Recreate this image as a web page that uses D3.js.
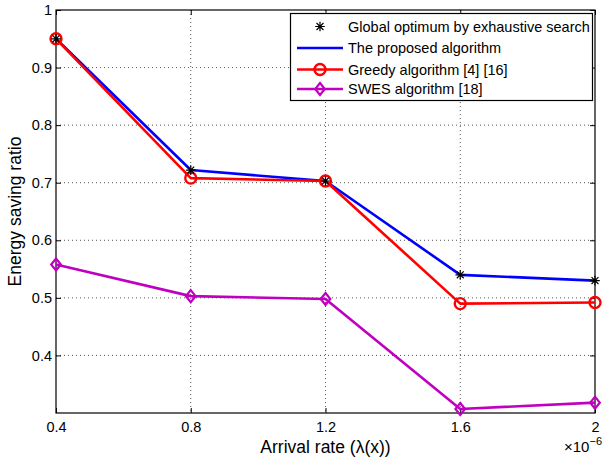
<!DOCTYPE html>
<html><head><meta charset="utf-8">
<script src="https://cdn.jsdelivr.net/npm/d3@7"></script>
<style>body{margin:0;background:#fff;} text{font-family:"Liberation Sans",Arial,Helvetica,sans-serif;}</style>
</head><body>
<svg id="c" width="607" height="460"></svg>
<script>
const arrivalRates = [0.4, 0.8, 1.2, 1.6, 2.0];
const globalOptimum = [0.950, 0.722, 0.703, 0.540, 0.530];
const proposed = [0.950, 0.722, 0.703, 0.540, 0.530];
const greedy = [0.950, 0.708, 0.703, 0.490, 0.492];
const swes = [0.558, 0.503, 0.498, 0.307, 0.318];
const xTicks = [0.4, 0.8, 1.2, 1.6, 2.0];
const xTickLabels = ["0.4", "0.8", "1.2", "1.6", "2"];
const yTicks = [0.4, 0.5, 0.6, 0.7, 0.8, 0.9, 1.0];
const yTickLabels = ["0.4", "0.5", "0.6", "0.7", "0.8", "0.9", "1"];
const legendLabels = ["Global optimum by exhaustive search", "The proposed algorithm", "Greedy algorithm [4] [16]", "SWES algorithm [18]"];

const svg = d3.select("#c");
const L = 56, R = 595, T = 10, B = 413;
const FS = 14.5;
const x = d3.scaleLinear().domain([0.4, 2.0]).range([L, R]);
const y = d3.scaleLinear().domain([0.3, 1.0]).range([B, T]);

// grid
const g = svg.append("g");
g.selectAll(".gx").data(xTicks.slice(1, -1)).enter().append("line")
  .attr("x1", d => x(d)).attr("x2", d => x(d)).attr("y1", T).attr("y2", B)
  .attr("stroke", "#555").attr("stroke-width", 1).attr("stroke-dasharray", "1,3");
g.selectAll(".gy").data(yTicks.slice(0, -1)).enter().append("line")
  .attr("x1", L).attr("x2", R).attr("y1", d => y(d)).attr("y2", d => y(d))
  .attr("stroke", "#555").attr("stroke-width", 1).attr("stroke-dasharray", "1,3");

// axes
const xAxis = d3.axisBottom(x).tickValues(xTicks).tickFormat((d, i) => xTickLabels[i]).tickSizeInner(-5).tickSizeOuter(0).tickPadding(9);
const yAxis = d3.axisLeft(y).tickValues(yTicks).tickFormat((d, i) => yTickLabels[i]).tickSizeInner(-5).tickSizeOuter(0).tickPadding(4);
const ax = svg.append("g").attr("transform", `translate(0,${B})`).call(xAxis);
const ay = svg.append("g").attr("transform", `translate(${L},0)`).call(yAxis);
const axTop = svg.append("g").attr("transform", `translate(0,${T})`).call(d3.axisTop(x).tickValues(xTicks).tickFormat("").tickSizeInner(-5).tickSizeOuter(0));
const ayR = svg.append("g").attr("transform", `translate(${R},0)`).call(d3.axisRight(y).tickValues(yTicks).tickFormat("").tickSizeInner(-5).tickSizeOuter(0));
[ax, ay, axTop, ayR].forEach(a => { a.select(".domain").remove(); a.attr("font-size", FS).attr("font-family", "Liberation Sans, Arial, sans-serif"); a.selectAll("line").attr("stroke", "#000"); a.selectAll("text").attr("fill", "#000"); });
svg.append("rect").attr("x", L).attr("y", T).attr("width", R - L).attr("height", B - T).attr("fill", "none").attr("stroke", "#000").attr("stroke-width", 1.2);

// lines
const line = d3.line().x((d, i) => x(arrivalRates[i])).y(d => y(d));
const series = [
  {data: proposed, color: "#0000ff", marker: null},
  {data: greedy, color: "#ff0000", marker: "circle"},
  {data: swes, color: "#c000c0", marker: "diamond"}
];
series.forEach(s => {
  svg.append("path").datum(s.data).attr("d", line).attr("fill", "none").attr("stroke", s.color).attr("stroke-width", 2.6).attr("stroke-linejoin", "round");
});
function drawMarker(sel, type, cx, cy, color) {
  if (type === "circle") {
    sel.append("circle").attr("cx", cx).attr("cy", cy).attr("r", 5.5).attr("fill", "none").attr("stroke", color).attr("stroke-width", 2.4);
  } else if (type === "diamond") {
    const s = 6;
    sel.append("path").attr("d", `M${cx},${cy - s}L${cx + s * 0.8},${cy}L${cx},${cy + s}L${cx - s * 0.8},${cy}Z`).attr("fill", "none").attr("stroke", color).attr("stroke-width", 2.2);
  } else if (type === "star") {
    const s = 4.8, d2 = s * 0.72;
    sel.append("path").attr("d", `M${cx - s},${cy}L${cx + s},${cy}M${cx},${cy - s}L${cx},${cy + s}M${cx - d2},${cy - d2}L${cx + d2},${cy + d2}M${cx - d2},${cy + d2}L${cx + d2},${cy - d2}`).attr("stroke", color).attr("stroke-width", 1.2).attr("fill", "none");
  }
}
series.forEach(s => {
  if (!s.marker) return;
  s.data.forEach((v, i) => drawMarker(svg, s.marker, x(arrivalRates[i]), y(v), s.color));
});
globalOptimum.forEach((v, i) => drawMarker(svg, "star", x(arrivalRates[i]), y(v), "#000"));

// labels
svg.append("text").attr("x", (L + R) / 2).attr("y", 453).attr("text-anchor", "middle").attr("font-size", 17.5).text("Arrival rate (λ(x))");
svg.append("text").attr("transform", `translate(21,${(T + B) / 2}) rotate(-90)`).attr("text-anchor", "middle").attr("font-size", 17.5).text("Energy saving ratio");
const mult = svg.append("text").attr("x", 564).attr("y", 452).attr("font-size", 15);
mult.append("tspan").text("×10");
mult.append("tspan").attr("dy", -7).attr("font-size", 11).text("−6");

// legend
const lg = svg.append("g");
lg.append("rect").attr("x", 290.5).attr("y", 13.5).attr("width", 302).attr("height", 87).attr("fill", "#fff").attr("stroke", "#000").attr("stroke-width", 1.2);
const rows = [26.5, 48, 69.5, 89];
const legendStyles = [
  {color: "#000", marker: "star", line: false},
  {color: "#0000ff", marker: null, line: true},
  {color: "#ff0000", marker: "circle", line: true},
  {color: "#c000c0", marker: "diamond", line: true}
];
legendLabels.forEach((lab, i) => {
  const st = legendStyles[i];
  if (st.line) lg.append("line").attr("x1", 297).attr("x2", 343).attr("y1", rows[i]).attr("y2", rows[i]).attr("stroke", st.color).attr("stroke-width", 2.6);
  if (st.marker) drawMarker(lg, st.marker, 320, rows[i], st.color);
  lg.append("text").attr("x", 348).attr("y", rows[i] + 5.2).attr("font-size", FS).text(lab);
});
</script>
</body></html>
